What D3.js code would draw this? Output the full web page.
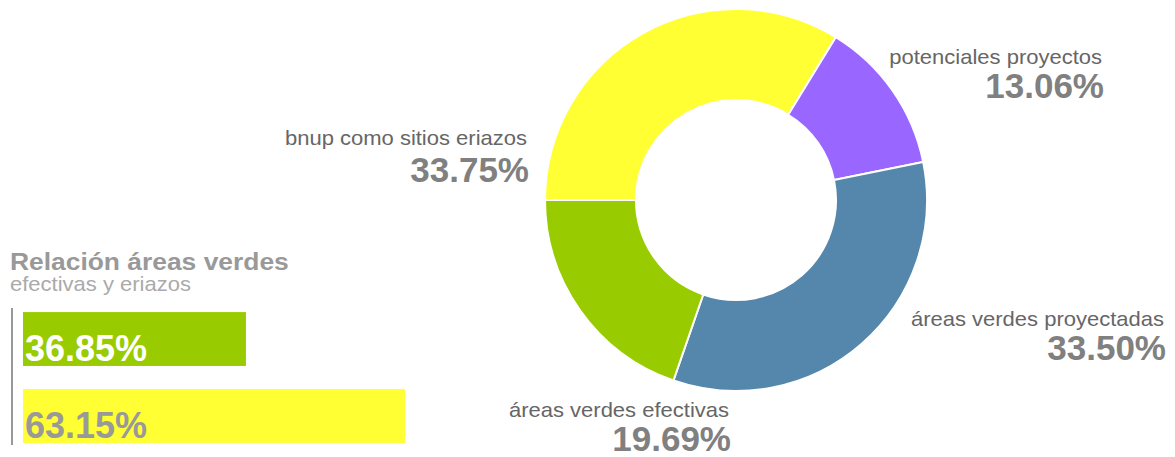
<!DOCTYPE html>
<html>
<head>
<meta charset="utf-8">
<script src="https://cdn.jsdelivr.net/npm/d3@7"></script>
<style>
  body { margin: 0; background: #fff; }
  svg { display: block; font-family: "Liberation Sans", Arial, sans-serif; }
  .lbl { fill: #666; font-size: 20px; }
  .num { fill: #808080; font-size: 35px; font-weight: bold; }
</style>
</head>
<body>
<div class="container"></div>
<script>
(function(){

var sliceNames = ["bnup como sitios eriazos", "potenciales proyectos", "áreas verdes proyectadas", "áreas verdes efectivas"];
var sliceValues = [33.75, 13.06, 33.50, 19.69];
var sliceColors = ["#ffff33", "#9966ff", "#5487ab", "#99cc00"];

var barValues = [36.85, 63.15];
var barColors = ["#99cc00", "#ffff33"];
var barTextColors = ["#ffffff", "#999999"];

var width = 1175,
    height = 457,
    cx = 736,
    cy = 200,
    outerR = 191,
    innerR = 100;

// where each donut label ends (right aligned), label baseline / number baseline
var labelAnchors = [[527, 145, 182], [1102, 64, 98], [1164, 326, 360], [729, 417, 451]];

var svg = d3.select(".container")
  .append("svg")
  .attr("width", width)
  .attr("height", height);

// donut
var pie = d3.pie()
  .sort(null)
  .startAngle(-Math.PI / 2)
  .endAngle(Math.PI * 1.5);

var arc = d3.arc()
  .innerRadius(innerR)
  .outerRadius(outerR);

var donut = svg.append("g")
  .attr("transform", "translate(" + cx + "," + cy + ")");

donut.selectAll(".slice")
  .data(pie(sliceValues))
  .enter()
  .append("path")
  .attr("class", "slice")
  .attr("d", arc)
  .attr("fill", function(d, i){ return sliceColors[i]; })
  .attr("stroke", "#fff")
  .attr("stroke-width", 2);

// donut labels
var labels = svg.selectAll(".sliceLabel")
  .data(sliceNames)
  .enter()
  .append("g")
  .attr("class", "sliceLabel");

labels.append("text")
  .attr("class", "lbl")
  .attr("text-anchor", "end")
  .attr("transform", function(d, i){
    return "translate(" + labelAnchors[i][0] + "," + labelAnchors[i][1] + ") scale(1.1,1)";
  })
  .text(function(d){ return d; });

labels.append("text")
  .attr("class", "num")
  .attr("text-anchor", "end")
  .attr("x", function(d, i){ return labelAnchors[i][0] + 2; })
  .attr("y", function(d, i){ return labelAnchors[i][2]; })
  .text(function(d, i){ return sliceValues[i].toFixed(2) + "%"; });

// left panel
svg.append("text")
  .attr("transform", "translate(10,270) scale(1.1,1)")
  .attr("fill", "#999")
  .attr("font-size", 24)
  .attr("font-weight", "bold")
  .text("Relación áreas verdes");

svg.append("text")
  .attr("transform", "translate(10,291) scale(1.1,1)")
  .attr("fill", "#aaa")
  .attr("font-size", 20)
  .text("efectivas y eriazos");

var xBar = d3.scaleLinear()
  .domain([0, 100])
  .range([0, 605]);

var yBar = d3.scaleBand()
  .domain(d3.range(barValues.length))
  .range([309, 446])
  .paddingInner(0.3)
  .paddingOuter(0.04);

svg.append("line")
  .attr("x1", 12)
  .attr("x2", 12)
  .attr("y1", 308)
  .attr("y2", 445)
  .attr("stroke", "#999")
  .attr("stroke-width", 2);

svg.selectAll(".bar")
  .data(barValues)
  .enter()
  .append("rect")
  .attr("class", "bar")
  .attr("x", 23)
  .attr("y", function(d, i){ return yBar(i); })
  .attr("width", function(d){ return xBar(d); })
  .attr("height", yBar.bandwidth())
  .attr("fill", function(d, i){ return barColors[i]; });

svg.selectAll(".barText")
  .data(barValues)
  .enter()
  .append("text")
  .attr("class", "barText")
  .attr("x", 25)
  .attr("y", function(d, i){ return yBar(i) + yBar.bandwidth() - 5; })
  .attr("fill", function(d, i){ return barTextColors[i]; })
  .attr("font-size", 36)
  .attr("font-weight", "bold")
  .text(function(d){ return d.toFixed(2) + "%"; });

})();
</script>
</body>
</html>
